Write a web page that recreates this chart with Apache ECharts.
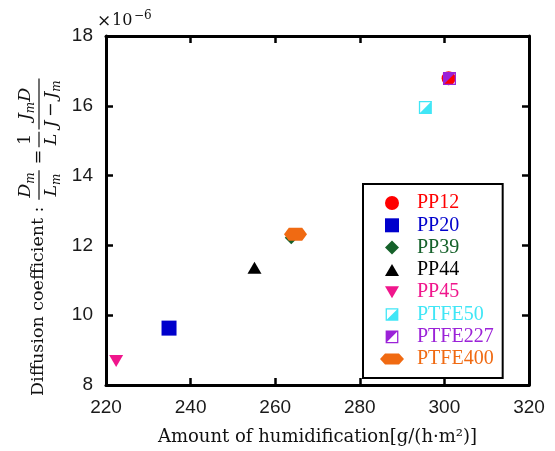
<!DOCTYPE html>
<html>
<head>
<meta charset="utf-8">
<title>Diffusion coefficient vs. humidification</title>
<script src="https://cdn.jsdelivr.net/npm/echarts@6/dist/echarts.min.js"></script>
<style>
  html, body { margin: 0; padding: 0; background: #fff; }
  #chart { width: 555px; height: 451px; }
</style>
</head>
<body>
<div id="chart"></div>
<script>
// ---- data ----------------------------------------------------------------
const membranes = ['PP12', 'PP20', 'PP39', 'PP44', 'PP45', 'PTFE50', 'PTFE227', 'PTFE400'];
// amount of humidification, g/(h·m²)
const humidification = [301.0, 234.9, 263.8, 255.1, 222.4, 295.5, 301.2, 264.8];
// diffusion coefficient, in units of 1e-6
const diffusionCoef = [16.79, 9.63, 12.22, 11.36, 8.69, 15.95, 16.78, 12.32];
// axis tick labels
const xTickValues = [220, 240, 260, 280, 300, 320];
const yTickValues = [8, 10, 12, 14, 16, 18];

// ---- styling -------------------------------------------------------------
const colors = ['#ff0000', '#0000cc', '#15612a', '#000000', '#f0168c', '#40e6f6', '#9b22d8', '#f06a12'];

const halfCyan = 'path://M0 0H10V10H0Z M1 1V9H9V1Z M9 1V9H1Z';
const halfPurple = 'path://M0 0H10V10H0Z M1 1V9H9V1Z M1 1H9L1 9Z';
const hexagon = 'path://M0 5.5L5 0H19L24 5.5L19 11H5Z';

const plotSymbols = ['circle', 'rect', 'diamond', 'triangle', 'triangle', halfCyan, halfPurple, hexagon];
const plotSizes = [14, 15, 13, [14, 12], [14, 12], 13, 13, [23, 13]];
const plotRotate = [0, 0, 0, 0, 180, 0, 0, 0];

const legendIcons = [
  'circle',
  'path://M0 0H10V10H0Z',
  'path://M5 0L10 5L5 10L0 5Z',
  'path://M0 0M0 13L7 1L14 13Z M14 14',
  'path://M0 0M0 1H14L7 13Z M14 14',
  'path://M-0.5 -0.5M0 0H10V10H0Z M1 1V9H9V1Z M9 1V9H1Z M10.5 10.5',
  'path://M-0.5 -0.5M0 0H10V10H0Z M1 1V9H9V1Z M1 1H9L1 9Z M10.5 10.5',
  hexagon
];

const SERIF = 'DejaVu Serif';
const INK = '#111';

// ---- y-axis title: "Diffusion coefficient : Dm/Lm = 1/L · JmD/(J − Jm)" ----
const measureCtx = document.createElement('canvas').getContext('2d');
function textWidth(str, font) {
  measureCtx.font = font;
  return measureCtx.measureText(str).width;
}
const mainSize = 17.5, subSize = 12;

function fontOf(italic, size) {
  return (italic ? 'italic ' : '') + size + 'px "' + SERIF + '"';
}
// width of a run of [text, italic, subscript] pieces
function runWidth(pieces) {
  return pieces.reduce((w, p) => w + textWidth(p[0], fontOf(p[1], p[2] ? subSize : mainSize)), 0);
}
// text elements for a run; x is the start, base the baseline
function runElements(pieces, x, base) {
  const out = [];
  let cx = x;
  pieces.forEach(p => {
    const size = p[2] ? subSize : mainSize;
    const font = fontOf(p[1], size);
    const b = base + (p[2] ? 3.5 : 0);
    out.push({
      type: 'text', x: cx, y: b - 0.35 * size,
      style: { text: p[0], font: font, fill: INK, align: 'left', verticalAlign: 'middle' }
    });
    cx += textWidth(p[0], font);
  });
  return out;
}
function fraction(num, den, center) {
  const wn = runWidth(num), wd = runWidth(den);
  const bar = Math.max(wn, wd) + 4;
  return [
    ...runElements(num, center - wn / 2, -13.5),
    ...runElements(den, center - wd / 2, 12.8),
    { type: 'rect', shape: { x: center - bar / 2, y: -6.6, width: bar, height: 1.2 }, style: { fill: INK } }
  ];
}

const yTitle = [
  { type: 'text', x: 0, y: -0.35 * mainSize,
    style: { text: 'Diffusion coefficient :', font: mainSize + 'px "' + SERIF + '"', fill: INK, verticalAlign: 'middle' } },
  ...fraction([['D', 1], ['m', 1, 1]], [['L', 1], ['m', 1, 1]], 211),
  { type: 'text', x: 239, y: -6.5,
    style: { text: '=', font: mainSize + 'px "' + SERIF + '"', fill: INK, align: 'center', verticalAlign: 'middle' } },
  ...fraction([['1', 0]], [['L', 1]], 256.5),
  ...fraction([['J', 1], ['m', 1, 1], ['D', 1]], [['J', 1], ['\u2009\u2212\u2009', 0], ['J', 1], ['m', 1, 1]], 292)
];

// ---- axes ----------------------------------------------------------------
function valueAxis(ticks, position, showLabels, extra) {
  return Object.assign({
    type: 'value',
    position: position,
    min: ticks[0],
    max: ticks[ticks.length - 1],
    interval: ticks[1] - ticks[0],
    axisLine: { show: true, onZero: false, lineStyle: { color: '#000', width: 3 } },
    axisTick: { show: true, inside: true, length: 7, lineStyle: { color: '#000', width: 2.5 } },
    axisLabel: showLabels
      ? { show: true, margin: 13, fontFamily: 'Liberation Sans', fontSize: 19, color: '#1a1a1a' }
      : { show: false },
    splitLine: { show: false }
  }, extra || {});
}

const chart = echarts.init(document.getElementById('chart'), null, { renderer: 'canvas' });

chart.setOption({
  animation: false,
  backgroundColor: '#fff',
  grid: { left: 106, right: 26, top: 36, bottom: 66, containLabel: false, outerBoundsMode: 'none' },
  xAxis: [
    valueAxis(xTickValues, 'bottom', true, {
      name: 'Amount of humidification[g/(h\u00b7m\u00b2)]',
      nameLocation: 'middle',
      nameGap: 43,
      nameTextStyle: { fontFamily: SERIF, fontSize: 18, color: INK }
    }),
    valueAxis(xTickValues, 'top', false)
  ],
  yAxis: [
    valueAxis(yTickValues, 'left', true),
    valueAxis(yTickValues, 'right', false)
  ],
  legend: {
    orient: 'vertical',
    left: 363,
    top: 184,
    padding: [9, 9, 9, 17],
    itemWidth: 24,
    itemHeight: 14,
    itemGap: 2.3,
    borderColor: '#000',
    borderWidth: 2,
    selectedMode: false,
    textStyle: { fontFamily: 'Liberation Serif', fontSize: 20, lineHeight: 20, padding: [0, 0, 0, 8] },
    data: membranes.map((name, i) => ({
      name: name,
      icon: legendIcons[i],
      textStyle: { color: colors[i] }
    }))
  },
  graphic: [
    { type: 'group', x: 45, y: 396, rotation: Math.PI / 2, children: yTitle },
    { type: 'text', x: 104, y: 22,
      style: { text: '\u00d7', font: '17px "' + SERIF + '"', fill: INK, align: 'center', verticalAlign: 'middle' } },
    { type: 'text', x: 112, y: 26 - 0.35 * 16,
      style: { text: '10', font: '16px "' + SERIF + '"', fill: INK, verticalAlign: 'middle' } },
    { type: 'text', x: 134, y: 20 - 0.35 * 12,
      style: { text: '\u22126', font: '12px "' + SERIF + '"', fill: INK, verticalAlign: 'middle' } }
  ],
  series: membranes.map((name, i) => ({
    name: name,
    type: 'scatter',
    xAxisIndex: 0,
    yAxisIndex: 0,
    symbol: plotSymbols[i],
    symbolSize: plotSizes[i],
    symbolRotate: plotRotate[i],
    itemStyle: { color: colors[i], opacity: 1 },
    emphasis: { disabled: true },
    data: [[humidification[i], diffusionCoef[i]]]
  }))
});
</script>
</body>
</html>
